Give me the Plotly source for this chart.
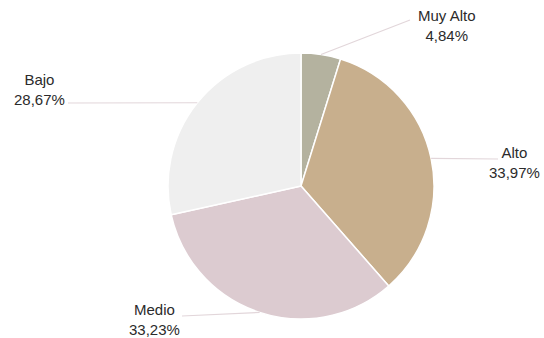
import math
import plotly.graph_objects as go

# data
categories = ["Muy Alto", "Alto", "Medio", "Bajo"]
percentages = [4.84, 33.97, 33.23, 28.67]
colors = ["#b4b29f", "#c8af8d", "#dccbd0", "#efefef"]

# figure size and pie placement (pixels)
W, H = 544, 338
cx, cy, r = 301, 186, 133

# where each label sits (pixels) and where its leader line ends
label_xy = [(447, 25), (514, 162), (154, 319), (39, 89)]
line_end = [(410, 20), (498, 159), (182, 316), (68, 103)]


def px(x):
    return x / W


def py(y):
    return 1 - y / H


fig = go.Figure(go.Pie(
    labels=categories,
    values=percentages,
    sort=False,
    direction="clockwise",
    rotation=0,
    marker=dict(colors=colors, line=dict(color="white", width=1.5)),
    textinfo="none",
    hoverinfo="label+percent",
    domain=dict(x=[px(cx - r), px(cx + r)], y=[py(cy + r), py(cy - r)]),
    showlegend=False,
))

# leader lines start at the middle of each slice, on the rim
total = sum(percentages)
acc = 0
shapes = []
annotations = []
for i, v in enumerate(percentages):
    mid = (acc + v / 2) / total * 2 * math.pi
    acc += v
    x0 = cx + r * math.sin(mid)
    y0 = cy - r * math.cos(mid)
    x1, y1 = line_end[i]
    shapes.append(dict(type="line", xref="paper", yref="paper",
                       x0=px(x0), y0=py(y0), x1=px(x1), y1=py(y1),
                       line=dict(color="#e2d6da", width=1.2)))
    lx, ly = label_xy[i]
    txt = categories[i] + "<br>" + f"{v:.2f}".replace(".", ",") + "%"
    annotations.append(dict(x=px(lx), y=py(ly), xref="paper", yref="paper",
                            text=txt, showarrow=False, xanchor="center",
                            yanchor="middle", align="center",
                            font=dict(family="Liberation Sans, Arial", size=15, color="#2b2b2b")))

fig.update_layout(
    width=W, height=H,
    margin=dict(l=0, r=0, t=0, b=0),
    paper_bgcolor="white",
    plot_bgcolor="white",
    shapes=shapes,
    annotations=annotations,
)

# remove the page margin so the figure sits at the window's corner
fig.write_html("out.html", config={"displayModeBar": False},
               post_script="document.body.style.margin='0';")
